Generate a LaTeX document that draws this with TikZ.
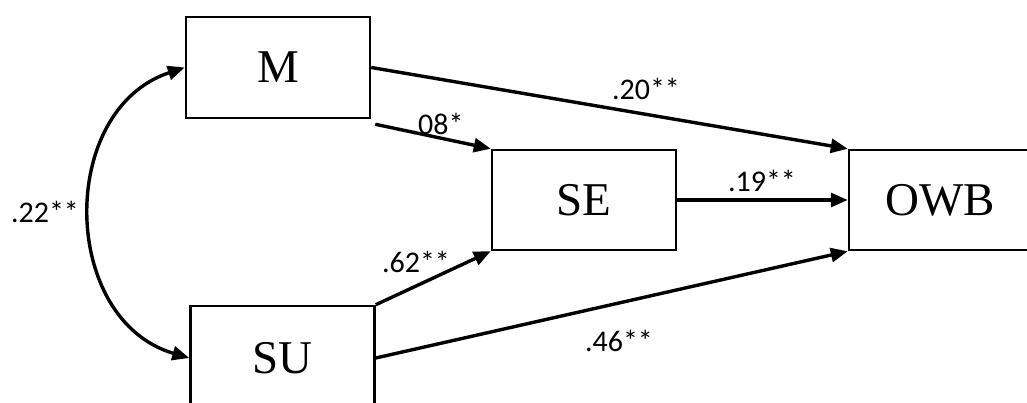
\documentclass[tikz,border=0pt]{standalone}
\usepackage{fontspec}
\setmainfont{Liberation Serif}
\newfontfamily\coeffont{Carlito}
\usetikzlibrary{arrows.meta}

\begin{document}
\begin{tikzpicture}[x=1pt,y=-1pt,
  var/.style={draw, line width=2.5pt, minimum width=184pt, minimum height=101pt,
    inner sep=0pt, font=\fontsize{47}{50}\selectfont},
  effect/.style={line width=3.4pt, -{Triangle[length=17pt,width=14pt]}},
  coef/.style={font=\coeffont\fontsize{30}{32}\selectfont, inner sep=0pt}]
 \useasboundingbox (0,0) rectangle (1027,403);
 \node[var] (M) at (278,67.5) {M};
 \node[var, minimum height=104pt] (SU) at (282.5,358) {SU};
 \node[var, minimum height=100pt] (SE) at (584,200) {SE};
 \node[var, minimum width=182pt, minimum height=100pt] (OWB) at (940,200) {OWB};
 \draw[effect] (M.east) -- (OWB.north west);
 \draw[effect] ([shift={(4,5)}]M.south east) -- (SE.north west);
 \draw[effect] (SE) -- (OWB);
 \draw[effect] (SU.north east) -- (SE.south west);
 \draw[effect] (SU.east) -- (OWB.south west);
 \draw[effect, {Triangle[length=17pt,width=14pt]}-{Triangle[length=17pt,width=14pt]}]
   (M.west) .. controls (57,110) and (60,320) .. (SU.west);
 \node[coef] (r22) at (45,212) {.22**};
 \node[coef] (r20) at (646,89) {.20**};
 \node[coef] (r08) at (437,124) {.08*};
 \node[coef] (r19) at (762,181) {.19**};
 \node[coef] (r62) at (416,262) {.62**};
 \node[coef] (r46) at (619,341) {.46**};
\end{tikzpicture}
\end{document}
